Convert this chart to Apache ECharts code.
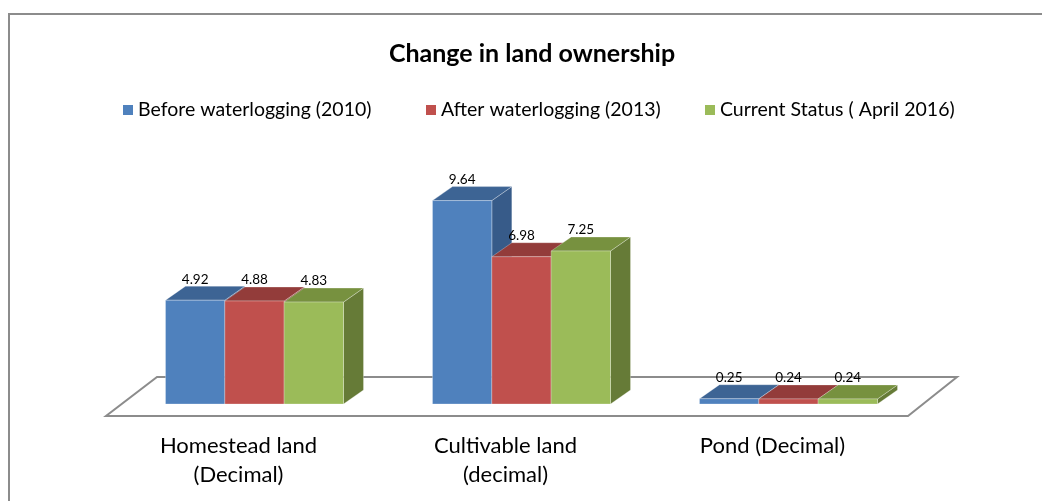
<!DOCTYPE html>
<html>
<head>
<meta charset="utf-8">
<script src="https://cdn.jsdelivr.net/npm/echarts@6/dist/echarts.min.js"></script>
<style>
  html, body { margin: 0; padding: 0; background: #ffffff; }
  #chart { width: 1042px; height: 501px; }
</style>
</head>
<body>
<div id="chart"></div>
<script>
// Land holdings per household, in decimals
const categories = ['Homestead land\n(Decimal)', 'Cultivable land\n(decimal)', 'Pond (Decimal)'];
const seriesNames = ['Before waterlogging (2010)', 'After waterlogging (2013)', 'Current Status ( April 2016)'];
const before2010 = [4.92, 9.64, 0.25];
const after2013 = [4.88, 6.98, 0.24];
const current2016 = [4.83, 7.25, 0.24];

// Face colours for each series: front, top, side
const faceColors = [
  { front: '#4F81BD', top: '#3D6494', side: '#375B89' },
  { front: '#C0504D', top: '#933C3A', side: '#8A3734' },
  { front: '#9BBB59', top: '#77913F', side: '#667B37' }
];

const DEPTH_X = 20;   // horizontal shift of the bar's back face
const DEPTH_Y = -14;  // vertical shift of the bar's back face
const FONT = 'Lato, "Open Sans", "Noto Sans", sans-serif';

const chart = echarts.init(document.getElementById('chart'), null, { renderer: 'canvas' });

// Draws one 3D-looking bar: front face, top face, right side face and its value label
function makeBarRenderer(seriesIndex) {
  return function (params, api) {
    const cat = api.value(0);
    const val = api.value(1);
    const topPt = api.coord([cat, val]);
    const basePt = api.coord([cat, 0]);
    const band = api.size([1, 0])[0];
    const groupW = band * (1 - 1 / 3);
    const w = groupW / 3;
    const x0 = topPt[0] - groupW / 2 + seriesIndex * w;
    const yTop = topPt[1];
    const yBase = basePt[1];
    const c = faceColors[seriesIndex];
    const edge = 'rgba(255,255,255,0.35)';
    return {
      type: 'group',
      children: [
        {
          type: 'polygon',
          shape: { points: [[x0 + w, yTop], [x0 + w + DEPTH_X, yTop + DEPTH_Y], [x0 + w + DEPTH_X, yBase + DEPTH_Y], [x0 + w, yBase]] },
          style: { fill: c.side, stroke: edge, lineWidth: 0.8 }
        },
        {
          type: 'polygon',
          shape: { points: [[x0, yTop], [x0 + w, yTop], [x0 + w + DEPTH_X, yTop + DEPTH_Y], [x0 + DEPTH_X, yTop + DEPTH_Y]] },
          style: { fill: c.top, stroke: edge, lineWidth: 0.8 }
        },
        {
          type: 'rect',
          shape: { x: x0, y: yTop, width: w, height: yBase - yTop },
          style: { fill: c.front, stroke: edge, lineWidth: 0.8 }
        },
        {
          type: 'text',
          x: x0 + w / 2,
          y: yTop + DEPTH_Y - 7,
          style: {
            text: val.toFixed(2),
            fill: '#000000',
            font: '13.5px ' + FONT,
            align: 'center',
            verticalAlign: 'middle'
          }
        }
      ]
    };
  };
}

// Floor of the plot: a slanted plane under the bars
function renderFloor(params, api) {
  const cs = params.coordSys;
  const base = api.coord([0, 0])[1];
  const left = cs.x;
  const right = cs.x + cs.width;
  const backY = base - 27;
  const frontY = base + 12;
  return {
    type: 'polygon',
    shape: { points: [[left + 36, backY], [right + 35, backY], [right - 14, frontY], [left - 15, frontY]] },
    style: { fill: '#ffffff', stroke: '#8C8C8C', lineWidth: 2 }
  };
}

const seriesData = [before2010, after2013, current2016];

const series = [{
  type: 'custom',
  name: 'floor',
  renderItem: renderFloor,
  data: [[0, 0]],
  silent: true,
  z: 1
}];
seriesData.forEach(function (vals, i) {
  series.push({
    type: 'custom',
    name: seriesNames[i],
    renderItem: makeBarRenderer(i),
    itemStyle: { color: faceColors[i].front },
    encode: { x: 0, y: 1 },
    data: vals.map(function (v, k) { return [k, v]; }),
    z: 2 + i
  });
});

// One legend entry per series, placed along a single row
const legendLefts = [118, 421, 700];
const legends = seriesNames.map(function (n, i) {
  return {
    data: [{ name: n, icon: 'rect' }],
    left: legendLefts[i],
    top: 95,
    itemWidth: 10,
    itemHeight: 10,
    textStyle: { fontFamily: FONT, fontSize: 19.5, color: '#000000' }
  };
});

chart.setOption({
  animation: false,
  backgroundColor: '#ffffff',
  title: {
    text: 'Change in land ownership',
    left: 527,
    textAlign: 'center',
    top: 36,
    textStyle: { fontFamily: FONT, fontSize: 25, fontWeight: 'bold', color: '#000000' }
  },
  legend: legends,
  grid: { left: 121, right: 120, top: 193, bottom: 97 },
  xAxis: {
    type: 'category',
    data: categories,
    axisLine: { show: false },
    axisTick: { show: false },
    axisLabel: {
      interval: 0,
      margin: 27,
      fontFamily: FONT,
      fontSize: 22,
      lineHeight: 29,
      color: '#000000',
      padding: [0, 32, 0, 0]
    }
  },
  yAxis: {
    type: 'value',
    min: 0,
    max: 10,
    show: false,
    splitLine: { show: false }
  },
  graphic: [{
    type: 'rect',
    shape: { x: 9, y: 14, width: 1100, height: 600 },
    style: { fill: 'none', stroke: '#8C8C8C', lineWidth: 2 },
    silent: true,
    z: 100
  }],
  series: series
});
</script>
</body>
</html>
